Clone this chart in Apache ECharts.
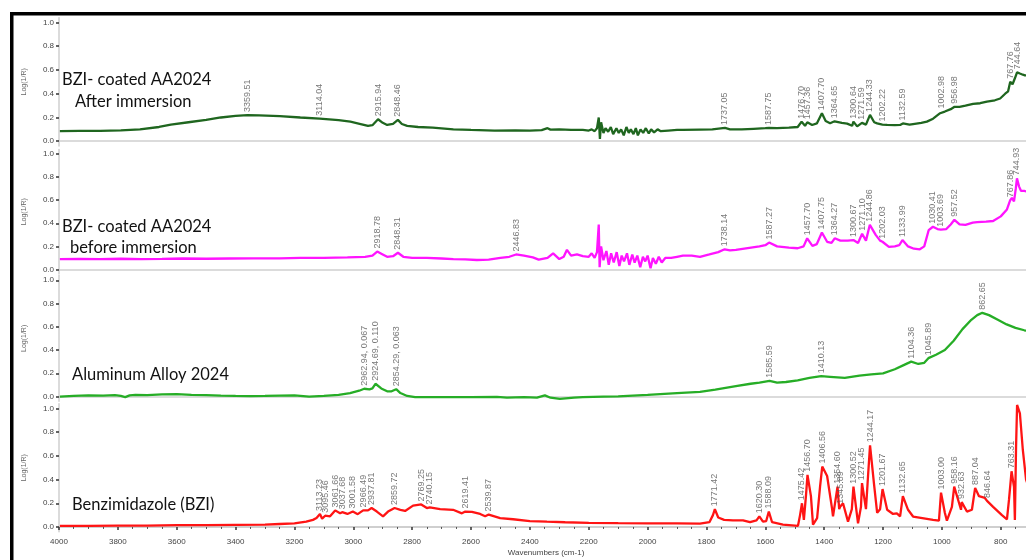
<!DOCTYPE html>
<html>
<head>
<meta charset="utf-8">
<script src="https://cdn.jsdelivr.net/npm/echarts@6/dist/echarts.min.js"></script>
<style>
  html, body { margin: 0; padding: 0; background: #fff; }
  #chart { width: 1026px; height: 560px; }
</style>
</head>
<body>
<div id="chart"></div>
<script>
// FTIR reflectance spectra, Log(1/R) against wavenumber (cm-1), four stacked panels.

const panelNames = ['BZI- coated AA2024 After immersion', 'BZI- coated AA2024 before immersion', 'Aluminum Alloy 2024', 'Benzimidazole (BZI)'];
const yTickValues = [0, 0.2, 0.4, 0.6, 0.8, 1.0];

// BZI-coated AA2024 after immersion: [wavenumber, Log(1/R)]
const afterImmersion = [
  [3997,0.085],[3930,0.087],[3860,0.088],[3790,0.092],[3725,0.1],[3660,0.12],[3620,0.14],[3560,0.16],
  [3500,0.18],[3450,0.2],[3400,0.213],[3359.51,0.22],[3320,0.218],[3250,0.212],[3180,0.2],[3114.04,0.19],
  [3050,0.178],[3010,0.165],[2975,0.145],[2950,0.13],[2935,0.135],[2915.94,0.185],[2900,0.155],[2885,0.137],
  [2865,0.146],[2848.46,0.18],[2835,0.145],[2817,0.13],[2780,0.12],[2730,0.115],[2660,0.1],[2600,0.095],
  [2520,0.09],[2450,0.092],[2400,0.09],[2360,0.093],[2340,0.11],[2330,0.098],[2300,0.1],[2260,0.095],
  [2220,0.095],[2200,0.09],[2190,0.1],[2180,0.085],[2172,0.11],[2166,0.2],[2162,0.02],[2158,0.16],
  [2150,0.07],[2143,0.11],[2134,0.08],[2125,0.12],[2117,0.06],[2106,0.11],[2098,0.07],[2090,0.1],
  [2081,0.05],[2072,0.12],[2064,0.07],[2057,0.1],[2048,0.06],[2040,0.11],[2033,0.05],[2024,0.1],
  [2015,0.07],[2006,0.11],[1996,0.065],[1988,0.1],[1978,0.075],[1966,0.1],[1955,0.085],[1930,0.09],
  [1900,0.095],[1880,0.095],
  [1822,0.098],[1780,0.1],[1737.05,0.112],[1720,0.1],[1680,0.1],[1640,0.105],[1600,0.11],[1587.75,0.112],
  [1560,0.11],[1520,0.115],[1490,0.12],[1476.70,0.165],[1465,0.13],[1457.36,0.16],[1441,0.137],[1425,0.15],
  [1407.70,0.236],[1395,0.17],[1380,0.152],[1364.65,0.168],[1340,0.155],[1322,0.148],[1305,0.13],[1300.64,0.165],
  [1288,0.125],[1271.59,0.155],[1258,0.14],[1244.33,0.222],[1230,0.16],[1220,0.15],[1202.22,0.14],[1186,0.137],
  [1160,0.135],[1142,0.137],[1132.59,0.15],[1110,0.14],[1098,0.145],[1070,0.155],[1051,0.165],[1030,0.19],
  [1006,0.236],[1002.98,0.25],[990,0.25],[970,0.27],[956.98,0.29],[940,0.29],[920,0.3],[894,0.315],
  [870,0.32],[847,0.334],[820,0.345],[802,0.36],[785,0.4],[775,0.42],[767.76,0.5],[760,0.48],
  [752,0.53],[744.64,0.58],[735,0.57],[725,0.56],[718,0.555],[700,0.55]
];
const afterPeaks = ['3359.51','3114.04','2915.94','2848.46','1737.05','1587.75','1476.70','1457.36','1407.70','1364.65',
  '1300.64','1271.59','1244.33','1202.22','1132.59','1002.98','956.98','767.76','744.64'];

// BZI-coated AA2024 before immersion
const beforeImmersion = [
  [3997,0.09],[3930,0.092],[3860,0.09],[3790,0.093],[3720,0.09],[3650,0.092],[3580,0.095],[3500,0.093],
  [3420,0.095],[3340,0.097],[3250,0.097],[3180,0.1],[3100,0.1],[3020,0.105],[2960,0.11],[2935,0.12],
  [2918.78,0.155],[2900,0.13],[2885,0.11],[2865,0.115],[2848.31,0.145],[2830,0.11],[2800,0.1],[2750,0.1],
  [2700,0.095],[2660,0.09],[2620,0.088],[2580,0.082],[2540,0.085],[2500,0.1],[2470,0.11],[2446.83,0.13],
  [2420,0.12],[2390,0.105],[2370,0.085],[2340,0.1],[2321,0.14],[2300,0.09],[2285,0.11],[2274,0.17],
  [2260,0.12],[2240,0.13],[2220,0.115],[2200,0.11],[2190,0.14],[2180,0.1],[2172,0.15],[2166,0.39],
  [2163,0.02],[2158,0.2],[2150,0.08],[2140,0.16],[2132,0.04],[2124,0.14],[2115,0.06],[2105,0.15],
  [2096,0.03],[2088,0.12],[2080,0.07],[2070,0.14],[2062,0.04],[2052,0.13],[2044,0.06],[2035,0.12],
  [2025,0.02],[2016,0.11],[2008,0.07],[2000,0.12],[1990,0.01],[1982,0.1],[1972,0.05],[1962,0.11],
  [1952,0.06],[1940,0.1],[1920,0.1],[1900,0.11],[1880,0.12],[1850,0.12],[1822,0.11],[1790,0.13],
  [1760,0.15],[1738.14,0.175],[1720,0.165],[1700,0.17],[1660,0.185],[1620,0.2],[1600,0.21],[1587.27,0.233],
  [1560,0.2],[1520,0.19],[1490,0.184],[1470,0.2],[1457.70,0.27],[1440,0.205],[1425,0.22],[1407.75,0.32],
  [1390,0.24],[1375,0.23],[1364.27,0.27],[1345,0.25],[1320,0.25],[1300.67,0.255],[1285,0.23],[1271.10,0.31],
  [1258,0.25],[1244.86,0.387],[1225,0.3],[1210,0.25],[1202.03,0.24],[1180,0.195],[1160,0.2],[1145,0.21],
  [1133.99,0.255],[1115,0.2],[1095,0.18],[1075,0.175],[1060,0.2],[1045,0.34],[1030.41,0.37],[1015,0.35],
  [1003.69,0.345],[985,0.35],[970,0.39],[957.52,0.43],[940,0.39],[920,0.387],[895,0.405],[880,0.41],
  [850,0.415],[826,0.42],[800,0.46],[779,0.52],[767.86,0.6],[762,0.62],[755,0.59],[749,0.7],
  [744.93,0.79],[738,0.72],[731,0.68],[720,0.68],[700,0.67]
];
const beforePeaks = ['2918.78','2848.31','2446.83','1738.14','1587.27','1457.70','1407.75','1364.27','1300.67','1271.10',
  '1244.86','1202.03','1133.99','1030.41','1003.69','957.52','767.86','744.93'];

// Bare aluminium alloy 2024
const alloy2024 = [
  [3997,0.0],[3950,0.005],[3900,0.01],[3850,0.008],[3810,0.012],[3790,0.005],[3775,-0.005],[3760,0.01],
  [3740,0.015],[3700,0.012],[3650,0.018],[3600,0.02],[3550,0.015],[3500,0.012],[3450,0.008],[3400,0.005],
  [3350,0.003],[3300,0.005],[3250,0.008],[3200,0.01],[3150,0.0],[3100,0.005],[3050,0.015],[3011,0.03],
  [2980,0.05],[2962.94,0.067],[2945,0.062],[2935,0.07],[2924.69,0.110],[2905,0.07],[2885,0.045],[2870,0.045],
  [2854.29,0.063],[2840,0.03],[2817,0.005],[2790,-0.005],[2700,-0.005],[2600,-0.005],[2512,-0.003],[2478,-0.01],
  [2420,-0.005],[2376,-0.01],[2349,0.01],[2330,-0.01],[2298,-0.02],[2250,-0.01],[2220,-0.005],[2150,0.0],
  [2100,0.002],[2000,0.015],[1900,0.03],[1822,0.04],[1770,0.06],[1700,0.09],[1650,0.11],[1620,0.12],
  [1585.59,0.135],[1560,0.12],[1530,0.125],[1490,0.14],[1450,0.16],[1410.13,0.175],[1380,0.17],[1330,0.16],
  [1280,0.18],[1240,0.19],[1200,0.2],[1160,0.235],[1130,0.27],[1104.36,0.3],[1080,0.28],[1060,0.29],
  [1045.89,0.33],[1020,0.36],[990,0.4],[960,0.48],[930,0.58],[900,0.66],[880,0.7],[862.65,0.72],
  [840,0.7],[810,0.66],[780,0.62],[750,0.59],[720,0.57],[700,0.56]
];
const alloyPeaks = ['2962.94, 0.067','2924.69, 0.110','2854.29, 0.063','1585.59','1410.13','1104.36','1045.89','862.65'];

// Benzimidazole powder
const benzimidazole = [
  [3997,0.01],[3900,0.01],[3800,0.012],[3700,0.012],[3600,0.015],[3500,0.015],[3400,0.018],[3300,0.02],
  [3250,0.025],[3200,0.03],[3160,0.045],[3137,0.06],[3125,0.075],[3113.23,0.11],[3106,0.07],[3095.46,0.095],
  [3079,0.09],[3061.66,0.14],[3045,0.115],[3037.68,0.125],[3020,0.11],[3001.58,0.13],[2985,0.108],[2966.49,0.14],
  [2950,0.14],[2937.81,0.16],[2920,0.13],[2899,0.09],[2882,0.13],[2859.72,0.16],[2840,0.145],[2824,0.135],
  [2797,0.18],[2769.25,0.19],[2750,0.16],[2740.15,0.165],[2705,0.15],[2661,0.145],[2631,0.115],[2619.41,0.13],
  [2597,0.128],[2569,0.11],[2552,0.09],[2539.87,0.105],[2501,0.075],[2457,0.065],[2400,0.05],[2342,0.045],
  [2280,0.04],[2200,0.035],[2100,0.032],[2000,0.03],[1900,0.03],[1822,0.028],[1790,0.04],[1778,0.1],
  [1771.42,0.15],[1760,0.08],[1740,0.06],[1710,0.055],[1676,0.055],[1652,0.04],[1630,0.055],[1620.30,0.09],
  [1608,0.045],[1597,0.05],[1588.09,0.13],[1577,0.04],[1540,0.02],[1489,0.01],[1482,0.1],[1475.42,0.2],
  [1469,0.06],[1462,0.26],[1456.70,0.44],[1445,0.26],[1438,0.02],[1424,0.075],[1414,0.34],[1406.56,0.51],
  [1390,0.43],[1373,0.15],[1370,0.09],[1354.60,0.34],[1349,0.15],[1345.89,0.17],[1336,0.2],[1319,0.045],
  [1306,0.15],[1300.52,0.34],[1285,0.03],[1275,0.17],[1271.45,0.37],[1258,0.15],[1251,0.43],[1244.17,0.69],
  [1231,0.37],[1220,0.12],[1210,0.15],[1201.67,0.32],[1186,0.145],[1166,0.11],[1153,0.115],[1142,0.09],
  [1132.65,0.26],[1115,0.145],[1098,0.088],[1030,0.06],[1010,0.053],[1003.00,0.29],[990,0.12],[983,0.053],
  [966,0.17],[958.16,0.34],[945,0.23],[935,0.145],[932.63,0.21],[915,0.13],[898,0.145],[887.04,0.33],
  [874,0.26],[854,0.245],[846.64,0.22],[826,0.17],[796,0.1],[779,0.065],[772,0.23],[763.31,0.47],
  [755,0.34],[752,0.06],[748,0.68],[744.5,1.03],[735,0.96],[725,0.65],[714,0.4],[700,0.3]
];
const bziPeaks = ['3113.23','3095.46','3061.66','3037.68','3001.58','2966.49','2937.81','2859.72','2769.25','2740.15',
  '2619.41','2539.87','1771.42','1620.30','1588.09','1475.42','1456.70','1406.56','1354.60','1345.89','1300.52',
  '1271.45','1244.17','1201.67','1132.65','1003.00','958.16','932.63','887.04','846.64','763.31'];

const xTickStart = 600, xTickEnd = 4000, xTickStep = 200;

// ---- layout & styling ----
const spectra = [afterImmersion, beforeImmersion, alloy2024, benzimidazole];
const peakLists = [afterPeaks, beforePeaks, alloyPeaks, bziPeaks];
const colors = ['#1f661f', '#ff14ff', '#26ad26', '#ff1414'];
const grids = [
  { top: 17.7, height: 128.3 },
  { top: 149.4, height: 124.7 },
  { top: 275.6, height: 125.6 },
  { top: 403.8, height: 127.9 }
];
const plotLeft = 59;
// the wavenumber axis runs on past the right edge of the page (down to 600 cm-1)
const plotWidth = (xTickEnd - xTickStart) * 0.2943;

function peakAnchor(data, text) {
  const wn = parseFloat(text);
  let best = data[0];
  for (const p of data) if (Math.abs(p[0] - wn) < Math.abs(best[0] - wn)) best = p;
  return [wn, best[1]];
}

const titleFont = '16.5px Lato';
const option = {
  animation: false,
  backgroundColor: '#fff',
  grid: grids.map(g => ({
    left: plotLeft, width: plotWidth, top: g.top, height: g.height,
    containLabel: false, outerBoundsMode: 'none'
  })),
  xAxis: grids.map((g, i) => ({
    type: 'value', gridIndex: i, inverse: true,
    min: xTickStart, max: xTickEnd, interval: xTickStep,
    splitLine: { show: false },
    axisLine: { show: true, lineStyle: { color: '#cfcfcf', width: i === 3 ? 2 : 1.5 } },
    axisTick: { show: i === 3, length: 3, lineStyle: { color: '#333', width: 1.5 } },
    minorTick: { show: i === 3, splitNumber: 4, length: 2, lineStyle: { color: '#555' } },
    axisLabel: { show: i === 3, color: '#444', fontSize: 8, fontFamily: 'Liberation Sans', margin: 6,
      formatter: v => (v >= 800 ? String(v) : '') }
  })),
  yAxis: grids.map((g, i) => ({
    type: 'value', gridIndex: i, min: -0.04, max: 1.04,
    name: 'Log(1/R)', nameLocation: 'middle', nameGap: 31,
    nameTextStyle: { color: '#666', fontSize: 7, fontFamily: 'Liberation Sans' },
    splitLine: { show: false },
    axisLine: { show: true, lineStyle: { color: '#cfcfcf', width: 1.5 } },
    axisTick: { show: true, length: 3, customValues: yTickValues, lineStyle: { color: '#333', width: 1.5 } },
    axisLabel: { color: '#444', fontSize: 8, fontFamily: 'Liberation Sans', margin: 5,
      customValues: yTickValues, formatter: v => v.toFixed(1) }
  })),
  series: [],
  graphic: [
    { type: 'rect', shape: { x: 10, y: 12, width: 3.5, height: 548 }, style: { fill: '#000' }, z: 100 },
    { type: 'rect', shape: { x: 10, y: 12, width: 1016, height: 3.5 }, style: { fill: '#000' }, z: 100 },
    { type: 'text', style: { x: 62, y: 80, text: 'BZI- coated AA2024', fill: '#111', font: titleFont, verticalAlign: 'middle' } },
    { type: 'text', style: { x: 75, y: 102, text: 'After immersion', fill: '#111', font: titleFont, verticalAlign: 'middle' } },
    { type: 'text', style: { x: 62, y: 227, text: 'BZI- coated AA2024', fill: '#111', font: titleFont, verticalAlign: 'middle' } },
    { type: 'text', style: { x: 70, y: 248, text: 'before immersion', fill: '#111', font: titleFont, verticalAlign: 'middle' } },
    { type: 'text', style: { x: 72, y: 375, text: 'Aluminum Alloy 2024', fill: '#111', font: titleFont, verticalAlign: 'middle' } },
    { type: 'text', style: { x: 72, y: 505, text: 'Benzimidazole (BZI)', fill: '#111', font: titleFont, verticalAlign: 'middle' } },
    { type: 'text', style: { x: 546, y: 553, text: 'Wavenumbers (cm-1)', fill: '#444', font: '8px "Liberation Sans"', align: 'center', verticalAlign: 'middle' } }
  ]
};

spectra.forEach((data, i) => {
  option.series.push({
    name: panelNames[i], type: 'line', xAxisIndex: i, yAxisIndex: i,
    data: data, showSymbol: false, symbol: 'none',
    lineStyle: { color: colors[i], width: 2.3 }, z: 3
  });
  option.series.push({
    name: panelNames[i] + ' peaks', type: 'scatter', xAxisIndex: i, yAxisIndex: i,
    symbolSize: 0, z: 4, silent: true,
    data: peakLists[i].map(t => ({ name: t, value: peakAnchor(data, t) })),
    label: {
      show: true, position: 'top', distance: 3, rotate: 90,
      align: 'left', verticalAlign: 'middle',
      formatter: p => p.name, color: '#555', fontSize: 9, fontFamily: 'Liberation Sans'
    }
  });
});

const chart = echarts.init(document.getElementById('chart'), null, { renderer: 'canvas' });
chart.setOption(option);
</script>
</body>
</html>
